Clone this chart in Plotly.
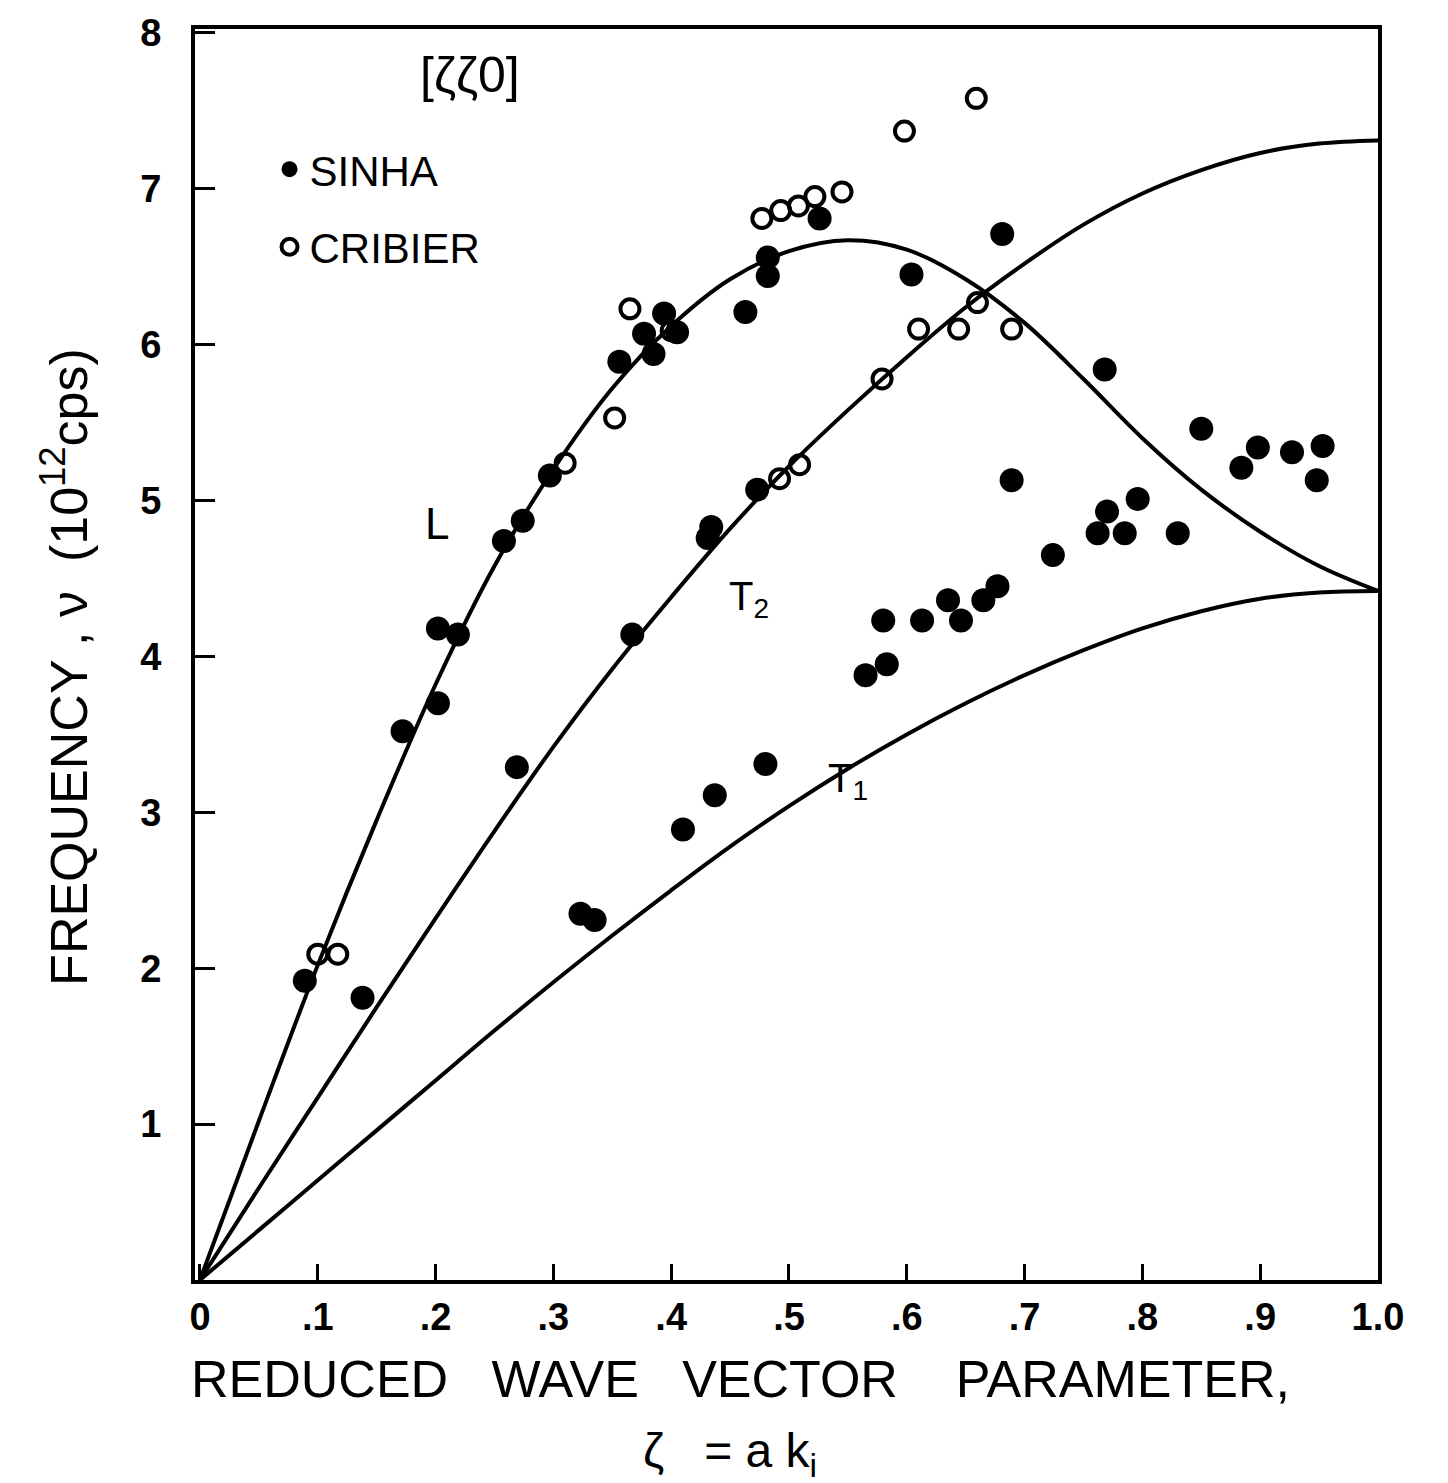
import plotly.graph_objects as go

# ---- data ----
sinha_x = [0.089, 0.138, 0.172, 0.202, 0.202, 0.219, 0.258, 0.274, 0.269, 0.297,
           0.323, 0.335, 0.356, 0.367, 0.377, 0.385, 0.394, 0.405, 0.410, 0.431,
           0.434, 0.437, 0.463, 0.473, 0.480, 0.482, 0.482, 0.526, 0.565, 0.583,
           0.580, 0.604, 0.613, 0.635, 0.646, 0.665, 0.677, 0.681, 0.689, 0.724,
           0.762, 0.770, 0.785, 0.796, 0.830, 0.768, 0.850, 0.884, 0.898, 0.927,
           0.953, 0.948]
sinha_y = [1.92, 1.81, 3.52, 3.70, 4.18, 4.14, 4.74, 4.87, 3.29, 5.16,
           2.35, 2.31, 5.89, 4.14, 6.07, 5.94, 6.20, 6.08, 2.89, 4.76,
           4.83, 3.11, 6.21, 5.07, 3.31, 6.44, 6.56, 6.81, 3.88, 3.95,
           4.23, 6.45, 4.23, 4.36, 4.23, 4.36, 4.45, 6.71, 5.13, 4.65,
           4.79, 4.93, 4.79, 5.01, 4.79, 5.84, 5.46, 5.21, 5.34, 5.31,
           5.35, 5.13]

cribier_x = [0.100, 0.117, 0.310, 0.352, 0.365, 0.400, 0.477, 0.493, 0.508, 0.522,
             0.545, 0.509, 0.492, 0.579, 0.610, 0.644, 0.689, 0.660, 0.598, 0.659]
cribier_y = [2.09, 2.09, 5.24, 5.53, 6.23, 6.09, 6.81, 6.86, 6.89, 6.95,
             6.98, 5.23, 5.14, 5.78, 6.10, 6.10, 6.10, 6.27, 7.37, 7.58]

# dispersion curves
curve_x = [0, 0.05, 0.1, 0.15, 0.2, 0.25, 0.3, 0.35, 0.4, 0.45, 0.5,
           0.55, 0.6, 0.65, 0.7, 0.75, 0.8, 0.85, 0.9, 0.95, 1.0]
L_y = [0, 1.02, 2.02, 2.95, 3.82, 4.58, 5.20, 5.72, 6.12, 6.42, 6.60,
       6.67, 6.61, 6.42, 6.14, 5.78, 5.40, 5.07, 4.80, 4.58, 4.42]
T2_y = [0, 0.59, 1.17, 1.75, 2.32, 2.88, 3.42, 3.92, 4.38, 4.82, 5.22,
        5.58, 5.92, 6.24, 6.52, 6.77, 6.97, 7.12, 7.23, 7.29, 7.31]
T1_y = [0, 0.32, 0.64, 0.96, 1.28, 1.60, 1.91, 2.21, 2.50, 2.78, 3.04,
        3.28, 3.50, 3.70, 3.88, 4.04, 4.18, 4.29, 4.37, 4.41, 4.42]

x_ticks = [0, 0.1, 0.2, 0.3, 0.4, 0.5, 0.6, 0.7, 0.8, 0.9, 1.0]
x_ticktext = ["0", ".1", ".2", ".3", ".4", ".5", ".6", ".7", ".8", ".9", "1.0"]
y_ticks = [1, 2, 3, 4, 5, 6, 7, 8]
y_ticktext = ["1", "2", "3", "4", "5", "6", "7", "8"]

FONT = "Liberation Sans"
BLACK = "#000000"

fig = go.Figure()

for ys in (L_y, T2_y, T1_y):
    fig.add_trace(go.Scatter(x=curve_x, y=ys, mode="lines",
                             line=dict(color=BLACK, width=4, shape="spline", smoothing=1.0),
                             showlegend=False, hoverinfo="skip"))

fig.add_trace(go.Scatter(x=sinha_x, y=sinha_y, mode="markers", name="SINHA",
                         legendgroup="a",
                         marker=dict(symbol="circle", size=24, color=BLACK)))
fig.add_trace(go.Scatter(x=cribier_x, y=cribier_y, mode="markers", name="CRIBIER",
                         legendgroup="b",
                         marker=dict(symbol="circle-open", size=19, color=BLACK,
                                     line=dict(width=4, color=BLACK))))

fig.update_layout(
    width=1448, height=1483,
    margin=dict(l=195, r=70, t=18, b=203),
    paper_bgcolor="white", plot_bgcolor="white",
    font=dict(family=FONT, color=BLACK),
    showlegend=True,
    legend=dict(x=0.063, y=0.915, xanchor="left", yanchor="top",
                font=dict(size=42, family=FONT), tracegroupgap=20,
                bgcolor="rgba(0,0,0,0)", itemsizing="trace"),
    xaxis=dict(range=[-0.0042, 1.0], tickvals=x_ticks, ticktext=x_ticktext,
               showgrid=False, zeroline=False, showline=True, linewidth=4,
               linecolor=BLACK, mirror=True, ticks="inside", ticklen=16,
               tickwidth=3, tickcolor=BLACK,
               tickfont=dict(size=38, family=FONT, weight="bold")),
    yaxis=dict(range=[0, 8.025], tickvals=y_ticks, ticktext=y_ticktext,
               showgrid=False, zeroline=False, showline=True, linewidth=4,
               linecolor=BLACK, mirror=True, ticks="inside", ticklen=20,
               tickwidth=3, tickcolor=BLACK, ticklabelstandoff=22,
               tickfont=dict(size=38, family=FONT, weight="bold")),
)

annotations = [
    dict(text="REDUCED   WAVE   VECTOR    PARAMETER,", xref="paper", yref="paper",
         x=0.461, y=-0.0792, xanchor="center", yanchor="middle",
         showarrow=False, font=dict(size=52)),
    dict(text="ζ   = a k<sub>i</sub>", xref="paper", yref="paper",
         x=0.452, y=-0.139, xanchor="center", yanchor="middle",
         showarrow=False, font=dict(size=48)),
    dict(text="FREQUENCY , ν  (10<sup>12</sup>cps)", xref="paper", yref="paper",
         x=-0.11, y=0.49, xanchor="center", yanchor="middle", textangle=-90,
         showarrow=False, font=dict(size=52)),
    dict(text="[ζζ0]", xref="paper", yref="paper", x=0.2325, y=0.963,
         xanchor="center", yanchor="middle", showarrow=False, font=dict(size=50)),
    dict(text="L", x=0.201, y=4.85, showarrow=False, font=dict(size=44)),
    dict(text="T<sub>2</sub>", x=0.466, y=4.37, showarrow=False, font=dict(size=40)),
    dict(text="T<sub>1</sub>", x=0.55, y=3.2, showarrow=False, font=dict(size=40)),
]
fig.update_layout(annotations=annotations)

fig.write_html("out.html")
